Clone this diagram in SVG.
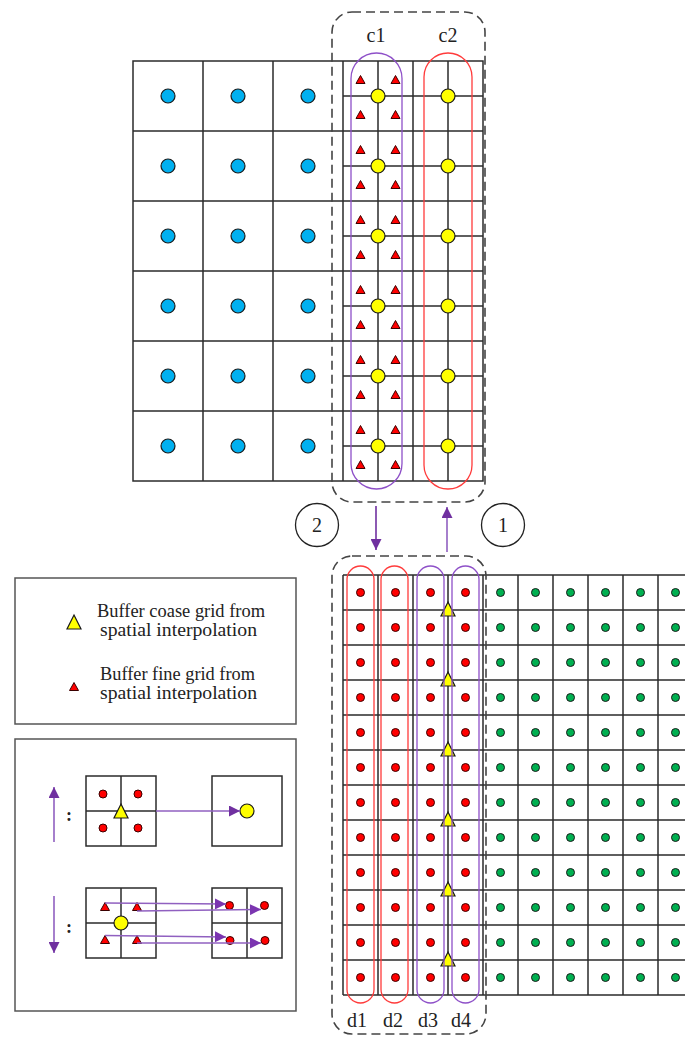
<svg xmlns="http://www.w3.org/2000/svg" xmlns:xlink="http://www.w3.org/1999/xlink" width="685" height="1037" viewBox="0 0 685 1037">
<style>
.g{stroke:#2b2b2b;stroke-width:1.5;fill:none}
.blue{fill:#00B0F0;stroke:#1a1a1a;stroke-width:1.2}
.yel{fill:#FFFF00;stroke:#1a1a1a;stroke-width:1.2}
.red{fill:#FF0000;stroke:#3a0000;stroke-width:1}
.grn{fill:#00B050;stroke:#1a1a1a;stroke-width:1}
.rr{fill:none;stroke:#FF3B3B;stroke-width:1.3}
.pr{fill:none;stroke:#8E50C8;stroke-width:1.3}
.dash{fill:none;stroke:#444;stroke-width:1.6;stroke-dasharray:9 5}
.box{fill:#fff;stroke:#555;stroke-width:1.5}
.arr{stroke:#7030A0;stroke-width:1.6;fill:none}
.arl{stroke:#9060C0;stroke-width:1.6;fill:none}
.t{font-family:"Liberation Serif","DejaVu Serif",serif;fill:#222}
</style>
<defs>
<polygon id="rt" class="red" points="0,-4.5 4.5,3.5 -4.5,3.5"/>
<polygon id="yt" class="yel" points="0,-8 7,6 -7,6"/>
<circle id="bc" class="blue" r="7"/>
<circle id="yc" class="yel" r="7"/>
<circle id="rd" class="red" r="4"/>
<circle id="gd" class="grn" r="4"/>
<marker id="ah" viewBox="0 0 10 10" refX="10" refY="5" markerWidth="17" markerHeight="11" markerUnits="userSpaceOnUse" orient="auto"><path d="M0,0 L10,5 L0,10 z" fill="#7030A0"/></marker>
<marker id="ahs" viewBox="0 0 10 10" refX="10" refY="5" markerWidth="15" markerHeight="11" markerUnits="userSpaceOnUse" orient="auto"><path d="M0,0 L10,5 L0,10 z" fill="#7B35B0"/></marker>
</defs>

<g id="top-grid">
<rect class="g" x="133" y="61" width="350" height="420"/>
<path class="g" d="M203,61V481M273,61V481M343,61V481M413,61V481M378,61V481M448,61V481M133,131H483M133,201H483M133,271H483M133,341H483M133,411H483M343,96H483M343,166H483M343,236H483M343,306H483M343,376H483M343,446H483"/>
</g>
<g id="blue-points">
<use href="#bc" x="168" y="96"/><use href="#bc" x="238" y="96"/><use href="#bc" x="308" y="96"/>
<use href="#bc" x="168" y="166"/><use href="#bc" x="238" y="166"/><use href="#bc" x="308" y="166"/>
<use href="#bc" x="168" y="236"/><use href="#bc" x="238" y="236"/><use href="#bc" x="308" y="236"/>
<use href="#bc" x="168" y="306"/><use href="#bc" x="238" y="306"/><use href="#bc" x="308" y="306"/>
<use href="#bc" x="168" y="376"/><use href="#bc" x="238" y="376"/><use href="#bc" x="308" y="376"/>
<use href="#bc" x="168" y="446"/><use href="#bc" x="238" y="446"/><use href="#bc" x="308" y="446"/>
</g>
<g id="c1-triangles">
<use href="#rt" x="360.5" y="80"/><use href="#rt" x="395.5" y="80"/><use href="#rt" x="360.5" y="115"/><use href="#rt" x="395.5" y="115"/>
<use href="#rt" x="360.5" y="150"/><use href="#rt" x="395.5" y="150"/><use href="#rt" x="360.5" y="185"/><use href="#rt" x="395.5" y="185"/>
<use href="#rt" x="360.5" y="220"/><use href="#rt" x="395.5" y="220"/><use href="#rt" x="360.5" y="255"/><use href="#rt" x="395.5" y="255"/>
<use href="#rt" x="360.5" y="290"/><use href="#rt" x="395.5" y="290"/><use href="#rt" x="360.5" y="325"/><use href="#rt" x="395.5" y="325"/>
<use href="#rt" x="360.5" y="360"/><use href="#rt" x="395.5" y="360"/><use href="#rt" x="360.5" y="395"/><use href="#rt" x="395.5" y="395"/>
<use href="#rt" x="360.5" y="430"/><use href="#rt" x="395.5" y="430"/><use href="#rt" x="360.5" y="465"/><use href="#rt" x="395.5" y="465"/>
</g>
<g id="yellow-points">
<use href="#yc" x="378" y="96"/><use href="#yc" x="448" y="96"/>
<use href="#yc" x="378" y="166"/><use href="#yc" x="448" y="166"/>
<use href="#yc" x="378" y="236"/><use href="#yc" x="448" y="236"/>
<use href="#yc" x="378" y="306"/><use href="#yc" x="448" y="306"/>
<use href="#yc" x="378" y="376"/><use href="#yc" x="448" y="376"/>
<use href="#yc" x="378" y="446"/><use href="#yc" x="448" y="446"/>
</g>
<g id="c1"><rect class="pr" x="351" y="53" width="51" height="436" rx="25.5"/><text class="t" x="376" y="42" font-size="20" text-anchor="middle">c1</text></g>
<g id="c2"><rect class="rr" x="424" y="53" width="48" height="436" rx="24"/><text class="t" x="448" y="42" font-size="20" text-anchor="middle">c2</text></g>
<g id="top-buffer"><rect class="dash" x="332" y="12" width="153" height="490" rx="20"/></g>

<g id="step2"><circle cx="317" cy="525" r="21.5" fill="none" stroke="#222" stroke-width="1.3"/><text class="t" x="317" y="532" font-size="20" text-anchor="middle">2</text></g>
<g id="step1"><circle cx="503" cy="525" r="21.5" fill="none" stroke="#222" stroke-width="1.3"/><text class="t" x="503" y="532" font-size="20" text-anchor="middle">1</text></g>

<g id="connectors">
<line class="arr" x1="376" y1="506" x2="376" y2="550" marker-end="url(#ah)"/>
<line class="arl" x1="447" y1="552" x2="447" y2="507" marker-end="url(#ah)"/>
</g>

<g id="bottom-grid">
<path class="g" d="M343,575V995M378,575V995M413,575V995M448,575V995M483,575V995M518,575V995M553,575V995M588,575V995M623,575V995M658,575V995M343,575H685M343,610H685M343,645H685M343,680H685M343,715H685M343,750H685M343,785H685M343,820H685M343,855H685M343,890H685M343,925H685M343,960H685M343,995H685"/>
</g>
<g id="red-points">
<use href="#rd" x="360.5" y="592.5"/><use href="#rd" x="395.5" y="592.5"/><use href="#rd" x="430.5" y="592.5"/><use href="#rd" x="465.5" y="592.5"/>
<use href="#rd" x="360.5" y="627.5"/><use href="#rd" x="395.5" y="627.5"/><use href="#rd" x="430.5" y="627.5"/><use href="#rd" x="465.5" y="627.5"/>
<use href="#rd" x="360.5" y="662.5"/><use href="#rd" x="395.5" y="662.5"/><use href="#rd" x="430.5" y="662.5"/><use href="#rd" x="465.5" y="662.5"/>
<use href="#rd" x="360.5" y="697.5"/><use href="#rd" x="395.5" y="697.5"/><use href="#rd" x="430.5" y="697.5"/><use href="#rd" x="465.5" y="697.5"/>
<use href="#rd" x="360.5" y="732.5"/><use href="#rd" x="395.5" y="732.5"/><use href="#rd" x="430.5" y="732.5"/><use href="#rd" x="465.5" y="732.5"/>
<use href="#rd" x="360.5" y="767.5"/><use href="#rd" x="395.5" y="767.5"/><use href="#rd" x="430.5" y="767.5"/><use href="#rd" x="465.5" y="767.5"/>
<use href="#rd" x="360.5" y="802.5"/><use href="#rd" x="395.5" y="802.5"/><use href="#rd" x="430.5" y="802.5"/><use href="#rd" x="465.5" y="802.5"/>
<use href="#rd" x="360.5" y="837.5"/><use href="#rd" x="395.5" y="837.5"/><use href="#rd" x="430.5" y="837.5"/><use href="#rd" x="465.5" y="837.5"/>
<use href="#rd" x="360.5" y="872.5"/><use href="#rd" x="395.5" y="872.5"/><use href="#rd" x="430.5" y="872.5"/><use href="#rd" x="465.5" y="872.5"/>
<use href="#rd" x="360.5" y="907.5"/><use href="#rd" x="395.5" y="907.5"/><use href="#rd" x="430.5" y="907.5"/><use href="#rd" x="465.5" y="907.5"/>
<use href="#rd" x="360.5" y="942.5"/><use href="#rd" x="395.5" y="942.5"/><use href="#rd" x="430.5" y="942.5"/><use href="#rd" x="465.5" y="942.5"/>
<use href="#rd" x="360.5" y="977.5"/><use href="#rd" x="395.5" y="977.5"/><use href="#rd" x="430.5" y="977.5"/><use href="#rd" x="465.5" y="977.5"/>
</g>
<g id="green-points">
<use href="#gd" x="500.5" y="592.5"/><use href="#gd" x="535.5" y="592.5"/><use href="#gd" x="570.5" y="592.5"/><use href="#gd" x="605.5" y="592.5"/><use href="#gd" x="640.5" y="592.5"/><use href="#gd" x="675.5" y="592.5"/>
<use href="#gd" x="500.5" y="627.5"/><use href="#gd" x="535.5" y="627.5"/><use href="#gd" x="570.5" y="627.5"/><use href="#gd" x="605.5" y="627.5"/><use href="#gd" x="640.5" y="627.5"/><use href="#gd" x="675.5" y="627.5"/>
<use href="#gd" x="500.5" y="662.5"/><use href="#gd" x="535.5" y="662.5"/><use href="#gd" x="570.5" y="662.5"/><use href="#gd" x="605.5" y="662.5"/><use href="#gd" x="640.5" y="662.5"/><use href="#gd" x="675.5" y="662.5"/>
<use href="#gd" x="500.5" y="697.5"/><use href="#gd" x="535.5" y="697.5"/><use href="#gd" x="570.5" y="697.5"/><use href="#gd" x="605.5" y="697.5"/><use href="#gd" x="640.5" y="697.5"/><use href="#gd" x="675.5" y="697.5"/>
<use href="#gd" x="500.5" y="732.5"/><use href="#gd" x="535.5" y="732.5"/><use href="#gd" x="570.5" y="732.5"/><use href="#gd" x="605.5" y="732.5"/><use href="#gd" x="640.5" y="732.5"/><use href="#gd" x="675.5" y="732.5"/>
<use href="#gd" x="500.5" y="767.5"/><use href="#gd" x="535.5" y="767.5"/><use href="#gd" x="570.5" y="767.5"/><use href="#gd" x="605.5" y="767.5"/><use href="#gd" x="640.5" y="767.5"/><use href="#gd" x="675.5" y="767.5"/>
<use href="#gd" x="500.5" y="802.5"/><use href="#gd" x="535.5" y="802.5"/><use href="#gd" x="570.5" y="802.5"/><use href="#gd" x="605.5" y="802.5"/><use href="#gd" x="640.5" y="802.5"/><use href="#gd" x="675.5" y="802.5"/>
<use href="#gd" x="500.5" y="837.5"/><use href="#gd" x="535.5" y="837.5"/><use href="#gd" x="570.5" y="837.5"/><use href="#gd" x="605.5" y="837.5"/><use href="#gd" x="640.5" y="837.5"/><use href="#gd" x="675.5" y="837.5"/>
<use href="#gd" x="500.5" y="872.5"/><use href="#gd" x="535.5" y="872.5"/><use href="#gd" x="570.5" y="872.5"/><use href="#gd" x="605.5" y="872.5"/><use href="#gd" x="640.5" y="872.5"/><use href="#gd" x="675.5" y="872.5"/>
<use href="#gd" x="500.5" y="907.5"/><use href="#gd" x="535.5" y="907.5"/><use href="#gd" x="570.5" y="907.5"/><use href="#gd" x="605.5" y="907.5"/><use href="#gd" x="640.5" y="907.5"/><use href="#gd" x="675.5" y="907.5"/>
<use href="#gd" x="500.5" y="942.5"/><use href="#gd" x="535.5" y="942.5"/><use href="#gd" x="570.5" y="942.5"/><use href="#gd" x="605.5" y="942.5"/><use href="#gd" x="640.5" y="942.5"/><use href="#gd" x="675.5" y="942.5"/>
<use href="#gd" x="500.5" y="977.5"/><use href="#gd" x="535.5" y="977.5"/><use href="#gd" x="570.5" y="977.5"/><use href="#gd" x="605.5" y="977.5"/><use href="#gd" x="640.5" y="977.5"/><use href="#gd" x="675.5" y="977.5"/>
</g>
<g id="coarse-triangles">
<use href="#yt" x="448" y="610"/><use href="#yt" x="448" y="680"/><use href="#yt" x="448" y="750"/><use href="#yt" x="448" y="820"/><use href="#yt" x="448" y="890"/><use href="#yt" x="448" y="960"/>
</g>
<g id="d1"><rect class="rr" x="347" y="566" width="27" height="437" rx="13.5"/><text class="t" x="357" y="1027" font-size="20" text-anchor="middle">d1</text></g>
<g id="d2"><rect class="rr" x="381" y="566" width="27" height="437" rx="13.5"/><text class="t" x="393" y="1027" font-size="20" text-anchor="middle">d2</text></g>
<g id="d3"><rect class="pr" x="417" y="566" width="27" height="437" rx="13.5"/><text class="t" x="428" y="1027" font-size="20" text-anchor="middle">d3</text></g>
<g id="d4"><rect class="pr" x="452" y="566" width="27" height="437" rx="13.5"/><text class="t" x="461" y="1027" font-size="20" text-anchor="middle">d4</text></g>
<g id="bottom-buffer"><rect class="dash" x="332" y="556" width="154" height="478" rx="20"/></g>

<g id="legend-symbols">
<rect class="box" x="15" y="578" width="281" height="146"/>
<use href="#yt" x="74" y="623"/>
<text class="t" x="97" y="617" font-size="18" textLength="168" lengthAdjust="spacingAndGlyphs">Buffer coase grid from</text>
<text class="t" x="100" y="636" font-size="18" textLength="157" lengthAdjust="spacingAndGlyphs">spatial interpolation</text>
<use href="#rt" x="74" y="687"/>
<text class="t" x="100" y="680" font-size="18" textLength="155" lengthAdjust="spacingAndGlyphs">Buffer fine grid from</text>
<text class="t" x="100" y="699" font-size="18" textLength="157" lengthAdjust="spacingAndGlyphs">spatial interpolation</text>
</g>

<g id="legend-operations">
<rect class="box" x="15" y="739" width="281" height="272"/>
<rect class="g" x="86" y="776" width="70" height="70"/>
<path class="g" d="M121,776V846M86,811H156"/>
<use href="#rd" x="103" y="794"/><use href="#rd" x="138" y="794"/><use href="#rd" x="103" y="828"/><use href="#rd" x="138" y="828"/>
<use href="#yt" x="121" y="812"/>
<rect class="g" x="212" y="776" width="70" height="70"/>
<use href="#yc" x="247" y="811"/>
<line class="arl" x1="156" y1="811" x2="240" y2="811" marker-end="url(#ah)"/>
<line class="arl" x1="54" y1="842" x2="54" y2="787" marker-end="url(#ah)"/>
<text class="t" x="69" y="821" font-size="18" font-weight="bold" text-anchor="middle">:</text>

<rect class="g" x="86" y="888" width="70" height="70"/>
<path class="g" d="M121,888V958M86,923H156"/>
<use href="#rt" x="105" y="907"/><use href="#rt" x="137" y="907"/><use href="#rt" x="105" y="940"/><use href="#rt" x="137" y="940"/>
<use href="#yc" x="121" y="923"/>
<rect class="g" x="212" y="888" width="70" height="70"/>
<path class="g" d="M247,888V958M212,923H282"/>
<use href="#rd" x="229.5" y="905.5"/><use href="#rd" x="264.5" y="905.5"/><use href="#rd" x="230" y="940.5"/><use href="#rd" x="265" y="940.5"/>
<line class="arl" x1="105" y1="903" x2="226" y2="904" marker-end="url(#ahs)"/>
<line class="arl" x1="137" y1="911" x2="261" y2="909.5" marker-end="url(#ahs)"/>
<line class="arl" x1="105" y1="935.5" x2="226" y2="937" marker-end="url(#ahs)"/>
<line class="arl" x1="137" y1="943" x2="261" y2="943" marker-end="url(#ahs)"/>
<line class="arl" x1="54" y1="896" x2="54" y2="953" marker-end="url(#ah)"/>
<text class="t" x="69" y="933" font-size="18" font-weight="bold" text-anchor="middle">:</text>
</g>
</svg>
